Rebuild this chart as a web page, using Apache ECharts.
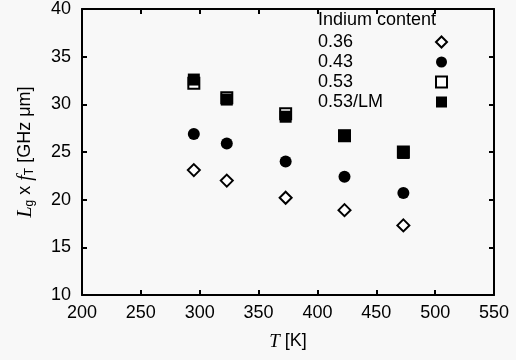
<!DOCTYPE html>
<html>
<head>
<meta charset="utf-8">
<script src="https://cdn.jsdelivr.net/npm/echarts@6/dist/echarts.min.js"></script>
<style>html,body{margin:0;padding:0;background:#f8f8f8;}#c{width:516px;height:360px;}</style>
</head>
<body>
<div id="c"></div>
<script>
const temps = [295, 323, 373, 423, 473];
const in036 = [23.1, 22.0, 20.2, 18.9, 17.3];
const in043 = [26.9, 25.9, 24.0, 22.4, 20.7];
const in053 = [32.2, 30.7, 29.0, 26.7, 25.0];
const in053LM = [32.6, 30.5, 28.7, 26.7, 24.9];
const seriesNames = ['0.36', '0.43', '0.53', '0.53/LM'];
const legendTitle = 'Indium content';
const xMin = 200, xMax = 550, xStep = 50;
const yMin = 10, yMax = 40, yStep = 5;

const pts = arr => temps.map((t, i) => [t, arr[i]]);
const font = 'Liberation Sans, Arial, sans-serif';
const chart = echarts.init(document.getElementById('c'));
const axisCommon = {
  axisLine: {show: true, lineStyle: {color: '#000', width: 2}},
  axisTick: {show: true, inside: true, length: 5, lineStyle: {color: '#000', width: 2}},
  splitLine: {show: false}
};
chart.setOption({
  backgroundColor: '#f8f8f8',
  animation: false,
  grid: {left: 82, right: 22, top: 9, bottom: 65},
  xAxis: [
    Object.assign({type: 'value', min: xMin, max: xMax, interval: xStep, position: 'bottom',
      axisLabel: {color: '#000', fontSize: 18, fontFamily: font, margin: 9},
      name: '{i|T} [K]', nameLocation: 'middle', nameGap: 37,
      nameTextStyle: {color: '#000', fontSize: 18, fontFamily: font,
        rich: {i: {fontFamily: 'Liberation Serif, serif', fontStyle: 'italic', fontSize: 19, color: '#000'}}}
    }, axisCommon),
    Object.assign({type: 'value', min: xMin, max: xMax, interval: xStep, position: 'top',
      axisLabel: {show: false}}, axisCommon)
  ],
  yAxis: [
    Object.assign({type: 'value', min: yMin, max: yMax, interval: yStep, position: 'left',
      axisLabel: {color: '#000', fontSize: 18, fontFamily: font, margin: 11},
      name: '{i|L}{s|g} x {i|f}{s|T} [GHz μm]', nameLocation: 'middle', nameGap: 46, nameRotate: 90,
      nameTextStyle: {color: '#000', fontSize: 18, fontFamily: font,
        rich: {
          i: {fontFamily: 'Liberation Serif, serif', fontStyle: 'italic', fontSize: 20, color: '#000'},
          s: {fontSize: 12, color: '#000', padding: [9, 0, 0, 0], fontFamily: font}
        }}
    }, axisCommon),
    Object.assign({type: 'value', min: yMin, max: yMax, interval: yStep, position: 'right',
      axisLabel: {show: false}}, axisCommon)
  ],
  graphic: [
    {type: 'text', left: 318, top: 11, z: 10,
      style: {text: legendTitle, fill: '#000', font: '18px ' + font}}
  ],
  legend: {
    orient: 'vertical', left: 318, top: 33, align: 'right', itemGap: 2, padding: 0,
    itemWidth: 11, itemHeight: 11, z: 10,
    formatter: '{a|{name}}',
    textStyle: {color: '#000', fontSize: 18, fontFamily: font,
      rich: {a: {width: 113, align: 'left', fontSize: 18, lineHeight: 18, fontFamily: font, color: '#000'}}},
    data: seriesNames
  },
  series: [
    {name: seriesNames[0], type: 'scatter', data: pts(in036), symbol: 'diamond', symbolSize: 12,
      itemStyle: {color: '#fff', borderColor: '#000', borderWidth: 2, opacity: 1}},
    {name: seriesNames[1], type: 'scatter', data: pts(in043), symbol: 'circle', symbolSize: 12,
      itemStyle: {color: '#000', opacity: 1}},
    {name: seriesNames[2], type: 'scatter', data: pts(in053), symbol: 'rect', symbolSize: 11,
      itemStyle: {color: '#fff', borderColor: '#000', borderWidth: 2, opacity: 1}},
    {name: seriesNames[3], type: 'scatter', data: pts(in053LM), symbol: 'rect', symbolSize: 12,
      itemStyle: {color: '#000', opacity: 1}}
  ]
});
</script>
</body>
</html>
